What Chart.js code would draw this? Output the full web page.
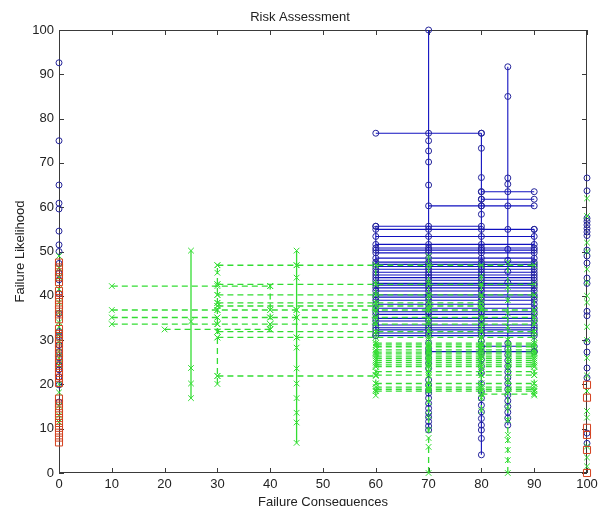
<!DOCTYPE html>
<html>
<head>
<meta charset="utf-8">
<script src="https://cdn.jsdelivr.net/npm/chart.js@4.4.1/dist/chart.umd.min.js"></script>
<style>
  html, body { margin: 0; padding: 0; background: #fff; }
</style>
</head>
<body>
<canvas id="riskChart" width="600" height="506"></canvas>
<script>
// Axis ticks
const xTicks = [0, 10, 20, 30, 40, 50, 60, 70, 80, 90, 100];
const yTicks = [0, 10, 20, 30, 40, 50, 60, 70, 80, 90, 100];

// Blue solid rows: [from consequence, to consequence, likelihood]
const blueNodes = [60, 70, 80, 90];
const blueRows = [
  [60, 80, 76.7], [70, 90, 60.3], [80, 90, 63.5], [80, 90, 61.8],
  [60, 80, 55.7], [60, 90, 55.0], [60, 90, 53.4], [60, 90, 51.6],
  [60, 90, 50.8], [60, 90, 50.3], [60, 90, 49.7], [60, 90, 48.5],
  [60, 90, 47.6], [60, 90, 47.1], [60, 90, 46.6], [60, 90, 46.0],
  [60, 90, 45.3], [60, 90, 44.7], [60, 90, 44.1], [60, 90, 43.5],
  [60, 90, 42.8], [60, 90, 42.4], [60, 90, 41.8], [60, 90, 41.1],
  [60, 90, 40.2], [60, 90, 39.7], [60, 90, 39.0], [60, 90, 38.1],
  [60, 90, 37.2], [60, 90, 36.4], [60, 90, 35.8], [60, 90, 34.9],
  [60, 90, 34.3], [60, 90, 33.4], [60, 90, 32.8], [60, 90, 32.3],
  [60, 90, 31.6], [60, 90, 31.0], [70, 90, 27.4], [80, 90, 28.6]
];

// Blue circles along columns
const blueCol0 = [92.6, 75, 65, 60.9, 59.6, 54.6, 51.5, 50, 47.3, 45.1, 43.6, 40.5, 36, 31.9, 30.8, 28.9, 27.4, 26, 24.4, 23.3, 21.7, 19.9, 16];
const blueCol60 = [31.0, 55.7];
const blueCol70 = [100, 75, 72.7, 70.2, 65, 29.3, 28.1, 27, 25.9, 24.8, 23.6, 21, 19.9, 18.7, 18, 16.9, 15.7, 14.6, 13.6, 12.6, 11.6, 10.6, 9.7];
const blueCol80 = [76.7, 73.3, 66.7, 63.5, 61.8, 60.3, 58.4, 29.8, 28.5, 27, 25.6, 24.1, 22.6, 20.2, 18.4, 16.9, 15.3, 13.8, 12.3, 10.8, 9.7, 7.8, 4.1];
const blueCol85 = [91.7, 85, 66.6, 65.2, 63.5, 60.3, 55, 50.5, 48, 45.5, 43, 29.3, 28, 26.7, 25.4, 24.1, 22.8, 21.5, 20.2, 18.9, 17.6, 16.3, 15, 13.7, 12.4, 10.8];
const blueCol90 = [27.4, 55.0];
const blueCol100 = [66.6, 63.7, 57.5, 56.8, 56, 55.2, 54.4, 53.6, 50.3, 49, 47.4, 44, 42.8, 36.5, 35.5, 29.6, 27.3, 23.7, 21.5, 9, 6.7];

// Green dashed rows: [likelihood, consequences with markers]
const greenRows = [
  [42.2, [10, 30, 40]],
  [36.8, [10, 30, 40, 45, 60, 70, 80, 90]],
  [35.1, [10, 30, 40, 45, 60, 70, 80, 90]],
  [33.6, [10, 30, 40, 60, 70, 80, 90]],
  [32.4, [20, 40]],
  [46.9, [30, 45, 60, 70, 80, 90]],
  [42.6, [30, 60, 70, 80, 90]],
  [40.2, [30, 60, 70, 80, 90]],
  [38.4, [30, 60, 70, 80]],
  [37.7, [30, 60, 70, 80]],
  [31.9, [30, 60, 70, 80, 90]],
  [30.6, [30, 45, 60, 70, 80, 90]],
  [21.9, [30, 60]],
  [29.3, [60, 70, 80, 90]], [28.9, [60, 70, 80, 90]], [28.5, [60, 70, 80, 90]],
  [27.8, [60, 70, 80, 90]], [27.3, [60, 70, 80, 90]], [26.9, [60, 70, 80, 90]],
  [26.4, [60, 70, 80, 90]], [25.9, [60, 70, 80, 90]], [25.4, [60, 70, 80, 90]],
  [24.9, [60, 70, 80, 90]], [24.4, [60, 70, 80, 90]], [24.0, [60, 70, 80, 90]],
  [22.9, [60, 70, 80, 90]], [22.1, [60, 70, 80, 90]], [20.2, [60, 70, 80, 90]],
  [19.4, [60, 70, 80, 90]], [18.9, [60, 70, 80, 90]], [18.5, [60, 70, 80, 90]],
  [17.8, [80, 90]]
];

// Green crosses along columns
const greenCol0 = [49, 46.3, 44.2, 41.5, 38.5, 36.2, 34, 33, 31.2, 29.5, 27.4, 26, 24.4, 20, 18.2, 15.2, 13, 11.5];
const greenCol25 = [16.9, 20.2, 23.7, 34.2, 50.2];
const greenCol30 = [20.1, 21.9, 30.6, 31.9, 33.6, 35.1, 36.8, 37.7, 38.4, 40.2, 42.6, 45.2, 46.9];
const greenCol40 = [32.4, 33.6, 35.1, 36.8, 42.2];
const greenCol45 = [6.8, 11.4, 13.6, 16.9, 20.2, 23.6, 28.3, 30.6, 35.1, 36.8, 44.1, 46.9, 50.2];
const greenCol60 = [17.5, 18.5, 20.2, 22.1, 24, 25.9, 27.8, 29.3, 31.9, 33.6, 35.1, 36.8, 38.4, 40.2, 42.6, 46.9];
const greenCol70 = [0, 5.9, 7.9, 9.7, 13, 16, 19, 22, 25, 28, 31, 34, 37, 40, 43, 46.9, 49];
const greenCol80 = [14, 17, 18.5, 20.2, 22.1, 24, 25.9, 27.8, 29.3, 30.6, 32, 33.6, 35.1, 36.8, 38.4, 40.2, 42.6, 44.5];
const greenCol85 = [0, 2.9, 5.2, 7.4, 8.6, 12, 15, 18, 21, 24, 27, 30, 33, 36, 39, 42, 47.6];
const greenCol90 = [17.5, 18.5, 20.2, 22.1, 24, 25.9, 27.8, 29.3, 31.9, 33.6, 35.1, 36.8, 40.2];
const greenCol100 = [1.5, 3.5, 6, 12.5, 14, 18.5, 22, 26, 30, 33, 38.5, 40, 43, 46, 50, 52, 58, 62];

// Red squares
const redCol0 = [47.5, 46.4, 45.3, 44.2, 43.1, 41.1, 40.2, 39.1, 38, 36.9, 35.8, 34.7, 32.5, 31.4, 30.3, 29.2, 28.1, 27, 25.9, 24.8, 23.7, 22.6, 21.5, 20.3, 16.8, 15.7, 14.6, 13.5, 12.4, 11.3, 10.2, 9.1, 8, 6.9];
const redCol100 = [19.9, 17, 10.2, 8.6, 5.2, 0];

const BLUE_LINE = '#1010c0';
const BLUE_MARK = '#24249a';
const GREEN = '#33dd33';
const RED = '#d4401e';
const FONT = "'Liberation Sans', Arial, sans-serif";

function series(points, style, extra) {
  return Object.assign({
    data: points.map(p => ({ x: p[0], y: p[1] })),
    showLine: true,
    borderWidth: 1,
    pointBorderWidth: 1,
    pointBackgroundColor: 'rgba(0,0,0,0)',
    clip: false,
    tension: 0
  }, style, extra || {});
}

const blueStyle = { borderColor: BLUE_LINE, pointStyle: 'circle', pointRadius: 3, pointBorderColor: BLUE_MARK, borderWidth: 1.1, order: 3 };
const greenStyle = { borderColor: GREEN, pointStyle: 'crossRot', pointRadius: 4, pointBorderColor: GREEN, borderDash: [6, 4], borderWidth: 1.3, order: 2 };
const redStyle = { borderColor: RED, pointStyle: 'rect', pointRadius: 5, pointBorderColor: RED, showLine: false, order: 1 };

function column(x, values) {
  return values.slice().sort((a, b) => a - b).map(v => [x, v]);
}

const datasets = [];

blueRows.forEach(([from, to, y]) => {
  const xs = blueNodes.filter(v => v >= from && v <= to);
  datasets.push(series(xs.map(x => [x, y]), blueStyle));
});
datasets.push(series(column(0, blueCol0), blueStyle, { showLine: false }));
datasets.push(series(column(60, blueCol60), blueStyle));
datasets.push(series(column(70, blueCol70), blueStyle));
datasets.push(series(column(80, blueCol80), blueStyle));
datasets.push(series(column(85, blueCol85), blueStyle));
datasets.push(series(column(90, blueCol90), blueStyle));
datasets.push(series(column(100, blueCol100), blueStyle, { showLine: false }));

greenRows.forEach(([y, xs]) => {
  datasets.push(series(xs.map(x => [x, y]), greenStyle));
});
datasets.push(series(column(0, greenCol0), greenStyle, { showLine: false }));
datasets.push(series(column(25, greenCol25), greenStyle, { borderDash: [] }));
datasets.push(series(column(30, greenCol30), greenStyle));
datasets.push(series(column(40, greenCol40), greenStyle));
datasets.push(series(column(45, greenCol45), greenStyle, { borderDash: [] }));
datasets.push(series(column(60, greenCol60), greenStyle));
datasets.push(series(column(70, greenCol70), greenStyle));
datasets.push(series(column(80, greenCol80), greenStyle));
datasets.push(series(column(85, greenCol85), greenStyle));
datasets.push(series(column(90, greenCol90), greenStyle));
datasets.push(series(column(100, greenCol100), greenStyle, { showLine: false }));

datasets.push(series(column(0, redCol0), redStyle));
datasets.push(series(column(100, redCol100), redStyle));

// MATLAB style box with inward ticks
const boxPlugin = {
  id: 'matlabBox',
  beforeDatasetsDraw(chart) {
    const { ctx, chartArea: a, scales: { x, y } } = chart;
    ctx.save();
    ctx.strokeStyle = '#3a3a3a';
    ctx.lineWidth = 1;
    ctx.strokeRect(a.left + 0.5, a.top + 0.5, a.right - a.left - 1, a.bottom - a.top - 1);
    ctx.beginPath();
    xTicks.forEach(v => {
      const px = Math.round(x.getPixelForValue(v)) + 0.5;
      ctx.moveTo(px, a.bottom); ctx.lineTo(px, a.bottom - 5);
      ctx.moveTo(px, a.top); ctx.lineTo(px, a.top + 5);
    });
    yTicks.forEach(v => {
      const py = Math.round(y.getPixelForValue(v)) + 0.5;
      ctx.moveTo(a.left, py); ctx.lineTo(a.left + 5, py);
      ctx.moveTo(a.right, py); ctx.lineTo(a.right - 5, py);
    });
    ctx.stroke();
    ctx.restore();
  }
};

const ctx = document.getElementById('riskChart').getContext('2d');
const riskChart = new Chart(ctx, {
  type: 'scatter',
  data: { datasets: datasets },
  options: {
    responsive: false,
    animation: false,
    events: [],
    plugins: {
      legend: { display: false },
      tooltip: { enabled: false },
      title: {
        display: true,
        text: 'Risk Assessment',
        color: '#222',
        font: { family: FONT, size: 13, weight: 'normal' },
        padding: { top: 10, bottom: 4.4 }
      }
    },
    scales: {
      x: {
        type: 'linear',
        min: 0,
        max: 100,
        grid: { display: false, drawTicks: false },
        border: { display: false },
        afterBuildTicks: s => { s.ticks = xTicks.map(v => ({ value: v })); },
        afterFit: s => { s.height = 33; s.paddingRight = 13; s.paddingLeft = 0; },
        ticks: { color: '#222', font: { family: FONT, size: 13 }, padding: 4, maxRotation: 0, autoSkip: false },
        title: {
          display: true,
          text: 'Failure Consequences',
          color: '#222',
          font: { family: FONT, size: 13 },
          padding: { top: 0, bottom: -4 }
        }
      },
      y: {
        type: 'linear',
        min: 0,
        max: 100,
        grid: { display: false, drawTicks: false },
        border: { display: false },
        afterBuildTicks: s => { s.ticks = yTicks.map(v => ({ value: v })); },
        afterFit: s => { s.width = 59; },
        ticks: { color: '#222', font: { family: FONT, size: 13 }, padding: 5, autoSkip: false },
        title: {
          display: true,
          text: 'Failure Likelihood',
          color: '#222',
          font: { family: FONT, size: 13 },
          padding: { top: 13, bottom: 0 }
        }
      }
    }
  },
  plugins: [boxPlugin]
});
</script>
</body>
</html>
